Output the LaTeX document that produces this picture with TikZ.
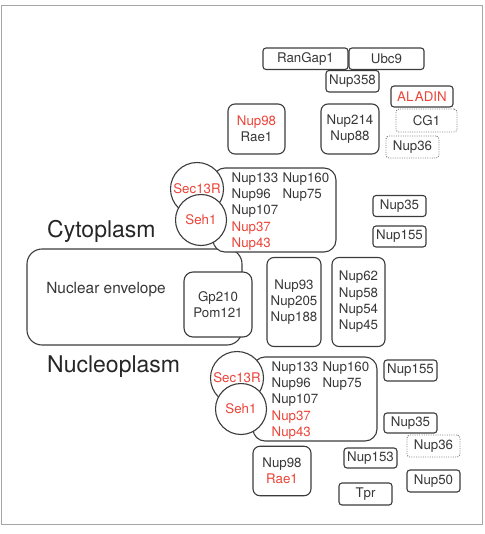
\documentclass[tikz,border=0pt]{standalone}
\usepackage{fontspec}
\setmainfont{TeX Gyre Heros}
\definecolor{nred}{RGB}{236,68,56}
\definecolor{linec}{RGB}{60,60,60}
\definecolor{txt}{RGB}{55,55,55}
\definecolor{framec}{RGB}{165,165,165}
\newcommand\nf{\fontsize{13.3}{16.3}\selectfont}
\newcommand\bigf{\fontsize{23}{27}\selectfont}
\newcommand\envf{\fontsize{15.4}{18}\selectfont}
\begin{document}
\begin{tikzpicture}[x=1pt,y=-1pt,
  base/.style={draw=linec, line width=1.1pt, fill=white, inner sep=0pt, text=txt, font=\nf, align=center},
  sbox/.style={base, rounded corners=3pt},
  mbox/.style={base, rounded corners=7pt},
  lbox/.style={base, rounded corners=12pt},
  dbox/.style={base, draw=gray, line width=0.9pt, dash pattern=on 1pt off 1.3pt, rounded corners=3pt},
  circ/.style={circle, draw=linec, line width=1.1pt, fill=white, inner sep=0pt, text=nred, font=\nf, minimum size=#1},
  lab/.style={inner sep=0pt, text=txt, anchor=west}]
\useasboundingbox (0,0) rectangle (484,534);
\draw[framec, line width=1pt] (1.5,6) rectangle (482,524);

% cytoplasm side
\node[sbox, minimum width=85pt, minimum height=21.5pt] (rangap) at (305.5,58.75) {RanGap1};
\node[sbox, minimum width=75pt, minimum height=21.5pt] (ubc9) at (386.5,58.75) {Ubc9};
\node[sbox, minimum width=53pt, minimum height=21.5pt] (nup358) at (352.5,81.25) {Nup358};
\node[sbox, minimum width=62pt, minimum height=21pt, text=nred] (aladin) at (422,96.5) {AL\kern1.5pt ADIN};
\node[dbox, minimum width=61pt, minimum height=23pt] (cg1) at (426.5,120.5) {CG1};
\node[dbox, minimum width=53pt, minimum height=22pt] (nup36a) at (412.5,147) {Nup36};
\node[mbox, minimum width=57pt, minimum height=50pt] (nup98a) at (256.5,129) {\textcolor{nred}{Nup98}\\Rae1};
\node[mbox, minimum width=58pt, minimum height=50pt] (nup214) at (350,129) {Nup214\\Nup88};
\node[sbox, minimum width=53pt, minimum height=21pt] (nup35a) at (399.5,206) {Nup35};
\node[sbox, minimum width=53pt, minimum height=21pt] (nup155a) at (399.5,236.5) {Nup155};
\node[lab, font=\bigf, text=black!85] (cyto) at (47,231) {Cytoplasm};

% nuclear envelope
\node[base, rounded corners=15pt, minimum width=215pt, minimum height=96pt] (env) at (134.5,297) {};
\node[lab, font=\envf, anchor=center] (envtxt) at (106,290) {Nuclear envelope};
\node[base, rounded corners=9pt, minimum width=68pt, minimum height=65pt] (gp210) at (218,304.5) {Gp210\\Pom121};
\node[mbox, minimum width=54pt, minimum height=89pt] (nup93) at (294,302) {Nup93\\Nup205\\Nup188};
\node[mbox, minimum width=53pt, minimum height=89pt] (nup62) at (358.5,302) {Nup62\\Nup58\\Nup54\\Nup45};

% top Y complex
\node[lbox, minimum width=123pt, minimum height=84pt] (topbox) at (274.5,210) {};
\node[lab, font=\nf] (toptxt) at ([xshift=19pt, yshift=-1.5pt]topbox.west) {\begin{tabular}{@{}l@{\hspace{4.4pt}}l@{}}Nup133 & Nup160\\ Nup96 & Nup75\\ Nup107 & \\ \textcolor{nred}{Nup37} & \\ \textcolor{nred}{Nup43} & \end{tabular}};
\node[circ=53pt] (sec13a) at (197,189) {Sec13R};
\node[circ=51pt] (seh1a) at (201,220) {Seh1};

% nucleoplasm side
\node[lab, font=\bigf, text=black!85] (nucleo) at (47,367) {Nucleoplasm};
\node[lbox, minimum width=124pt, minimum height=84pt] (botbox) at (315,399) {};
\node[lab, font=\nf] (bottxt) at ([xshift=19pt, yshift=-1.5pt]botbox.west) {\begin{tabular}{@{}l@{\hspace{4.4pt}}l@{}}Nup133 & Nup160\\ Nup96 & Nup75\\ Nup107 & \\ \textcolor{nred}{Nup37} & \\ \textcolor{nred}{Nup43} & \end{tabular}};
\node[circ=53pt] (sec13b) at (237,378) {Sec13R};
\node[circ=51pt] (seh1b) at (241,409) {Seh1};
\node[sbox, minimum width=53pt, minimum height=21pt] (nup155b) at (410.5,370.5) {Nup155};
\node[sbox, minimum width=53pt, minimum height=20pt] (nup35b) at (410.5,423) {Nup35};
\node[dbox, minimum width=53pt, minimum height=22pt] (nup36b) at (433.5,446) {Nup36};
\node[sbox, minimum width=53pt, minimum height=20pt] (nup153) at (370.5,458) {Nup153};
\node[mbox, minimum width=58pt, minimum height=49.5pt] (nup98b) at (282,471) {Nup98\\\textcolor{nred}{Rae1}};
\node[sbox, minimum width=53pt, minimum height=22pt] (tpr) at (365.5,494) {Tpr};
\node[sbox, minimum width=53pt, minimum height=22pt] (nup50) at (433.5,481) {Nup50};
\end{tikzpicture}
\end{document}
